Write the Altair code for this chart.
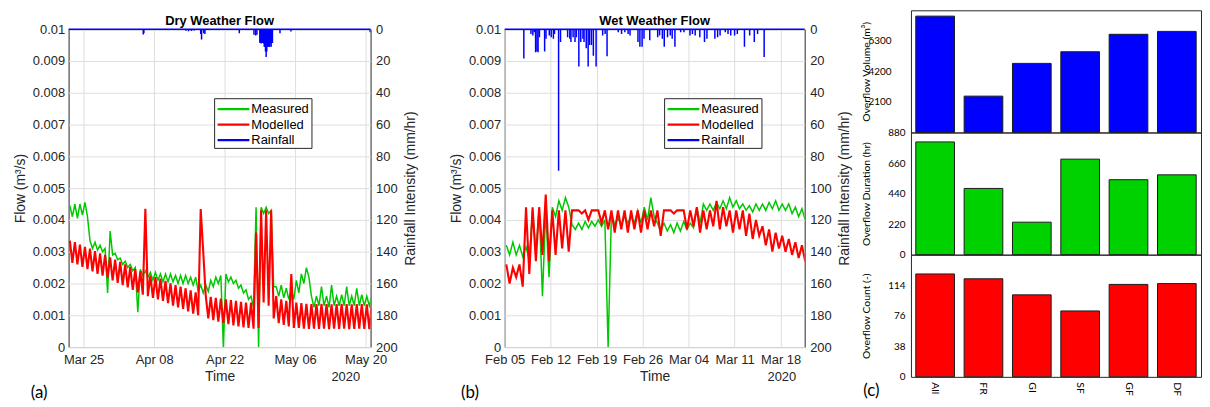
import altair as alt
import pandas as pd

# ---------------- data ----------------
SERIES = ["Measured", "Modelled", "Rainfall"]
SERIES_COLORS = ["#00c800", "#ff0000", "#0000ff"]

# (a) Dry weather flow: one high (06:00) and one low (18:00) reading per day, in L/s, from 2020-03-22
dry_start = "2020-03-22"
dry_measured_hi = [4.45, 4.5, 4.5, 4.55, 3.35, 3.3, 3.2, 3.1, 3.65, 2.95,
                   2.8, 2.7, 2.6, 2.5, 2.45, 2.4, 2.35, 2.35, 2.3, 2.3,
                   2.3, 2.25, 2.25, 2.25, 2.2, 2.2, 1.95, 1.95, 2.1, 2.2,
                   2.25, 2.3, 2.2, 2.1, 1.95, 1.8, 1.6, 4.4, 4.4, 4.4,
                   4.3, 1.9, 1.95, 1.85, 1.8, 2.1, 2.3, 2.5, 1.6, 1.6,
                   1.9, 1.6, 1.95, 1.6, 1.65, 1.9, 1.6, 1.85, 1.65, 1.6, 1.6]
dry_measured_lo = [4.1, 4.05, 4.15, 4.1, 3.1, 3.05, 3.0, 1.7, 2.9, 2.75,
                   2.6, 2.5, 2.4, 1.1, 2.25, 2.2, 2.1, 2.1, 2.05, 2.05,
                   2.05, 2.0, 2.0, 2.0, 1.95, 1.75, 1.7, 1.75, 1.9, 2.0,
                   0.0, 2.05, 2.0, 1.85, 1.7, 1.5, 1.25, 0.0, 4.2, 4.2,
                   1.9, 1.6, 1.55, 1.5, 1.5, 1.7, 2.0, 2.2, 1.25, 1.3,
                   1.3, 1.25, 1.3, 1.3, 1.3, 1.3, 1.3, 1.3, 1.3, 1.3, 1.3]
dry_modelled_hi = [3.35, 3.3, 3.22, 3.15, 3.1, 3.02, 2.95, 2.9, 2.82, 2.75,
                   2.68, 2.6, 2.52, 2.45, 2.38, 4.35, 2.25, 2.2, 2.15, 2.08,
                   2.0, 1.95, 1.9, 1.85, 1.78, 1.72, 4.34, 1.62, 1.58, 1.55,
                   1.52, 1.5, 1.48, 1.45, 1.42, 1.4, 1.4, 3.6, 4.3, 4.3,
                   4.3, 1.6, 1.5, 1.45, 2.3, 1.4, 1.38, 1.36, 1.35, 1.35,
                   1.36, 1.35, 1.34, 1.35, 1.36, 1.35, 1.34, 1.35, 1.35, 1.34, 1.35]
dry_modelled_lo = [2.65, 2.6, 2.52, 2.45, 2.38, 2.3, 2.25, 2.18, 2.1, 2.02,
                   1.95, 1.88, 1.8, 1.72, 1.65, 1.6, 1.55, 1.5, 1.45, 1.38,
                   1.3, 1.25, 1.2, 1.12, 1.05, 1.0, 3.0, 0.9, 0.85, 0.8,
                   0.75, 0.72, 0.68, 0.65, 0.62, 0.6, 0.58, 0.6, 1.4, 1.3,
                   0.9, 0.75, 0.7, 0.65, 0.6, 0.6, 0.58, 0.57, 0.58, 0.57,
                   0.58, 0.56, 0.58, 0.57, 0.58, 0.56, 0.57, 0.58, 0.57, 0.56, 0.58]
dry_rain_time = ["2020-04-05T20:00", "2020-04-05T23:00", "2020-04-14T08:00", "2020-04-14T20:00",
                 "2020-04-15T10:00", "2020-04-15T22:00", "2020-04-17T06:00", "2020-04-17T10:00",
                 "2020-04-17T20:00", "2020-04-18T02:00", "2020-04-24T22:00", "2020-04-27T20:00",
                 "2020-04-28T04:00", "2020-04-28T10:00",
                 "2020-04-29T00:00", "2020-04-29T03:00", "2020-04-29T06:00", "2020-04-29T09:00",
                 "2020-04-29T12:00", "2020-04-29T15:00", "2020-04-29T18:00", "2020-04-29T21:00",
                 "2020-04-30T00:00", "2020-04-30T03:00", "2020-04-30T06:00", "2020-04-30T09:00",
                 "2020-04-30T12:00", "2020-04-30T15:00", "2020-04-30T18:00", "2020-04-30T21:00",
                 "2020-05-01T00:00", "2020-05-01T03:00", "2020-05-01T06:00", "2020-05-01T09:00",
                 "2020-05-01T12:00", "2020-05-03T00:00", "2020-05-05T04:00", "2020-05-20T22:00"]
dry_rain_mm = [3.3, 2.5, 1.0, 1.3, 1.2, 0.8, 3.0, 6.5, 2.5, 3.0, 2.5, 3.5, 4.0, 3.5,
               8.5, 8.75, 9.0, 8.75, 8.75, 8.5, 9.0, 11.0,
               11.0, 14.0, 17.5, 14.0, 11.0, 11.0, 11.0, 11.0,
               11.0, 8.75, 11.0, 8.75, 8.75, 2.5, 1.5, 2.0]

# (b) Wet weather flow: daily high / low readings in L/s, from 2020-02-05
wet_start = "2020-02-05"
wet_measured_hi = [3.2, 3.3, 3.2, 3.15, 4.3, 4.4, 4.3, 4.4, 4.6, 4.7,
                   3.85, 3.9, 3.95, 3.95, 4.0, 4.0, 4.2, 4.05, 4.1, 4.1,
                   4.3, 4.4, 4.7, 3.9, 3.9, 3.85, 3.9, 3.95, 3.9, 4.4,
                   4.5, 4.5, 4.55, 4.6, 4.7, 4.6, 4.5, 4.45, 4.5, 4.5,
                   4.55, 4.6, 4.5, 4.5, 4.4, 4.35]
wet_measured_lo = [2.9, 2.9, 2.85, 2.75, 3.0, 1.6, 2.2, 4.1, 4.3, 4.4,
                   3.7, 3.7, 3.75, 3.8, 3.8, 0.0, 3.85, 3.85, 3.9, 3.9,
                   3.9, 4.0, 4.1, 3.65, 3.65, 3.6, 3.65, 3.7, 3.75, 3.9,
                   4.3, 4.3, 4.35, 4.35, 4.4, 4.35, 4.3, 4.25, 4.3, 4.3,
                   4.35, 4.3, 4.3, 4.2, 4.1, 4.0]
wet_modelled_hi = [2.6, 2.5, 2.6, 4.4, 4.4, 4.4, 4.8, 4.3, 4.3, 4.3,
                   4.3, 4.3, 4.3, 4.3, 4.3, 4.3, 4.3, 4.3, 4.3, 4.3,
                   4.3, 4.3, 4.3, 4.3, 4.3, 4.3, 4.3, 4.3, 4.3, 4.4,
                   4.3, 4.3, 4.6, 4.4, 4.3, 4.3, 4.3, 4.2, 4.0, 3.8,
                   3.7, 3.6, 3.5, 3.4, 3.3, 3.2]
wet_modelled_lo = [2.0, 2.2, 1.9, 2.3, 2.7, 2.9, 2.7, 2.9, 3.1, 3.0,
                   4.3, 4.2, 4.0, 4.3, 3.9, 3.7, 3.6, 3.7, 3.6, 3.7,
                   3.6, 3.7, 3.8, 3.5, 4.3, 4.2, 4.3, 3.7, 3.8, 3.6,
                   3.7, 3.8, 3.7, 3.8, 3.6, 3.7, 3.5, 3.4, 3.5, 3.2,
                   3.0, 3.1, 3.0, 2.9, 2.8, 2.7]
wet_rain_time = ["2020-02-07T22:00", "2020-02-09T00:00", "2020-02-09T07:00", "2020-02-09T12:00",
                 "2020-02-09T17:00", "2020-02-09T22:00", "2020-02-10T02:00", "2020-02-10T07:00",
                 "2020-02-11T02:00", "2020-02-11T07:00", "2020-02-11T19:00", "2020-02-12T02:00",
                 "2020-02-12T10:00", "2020-02-12T14:00", "2020-02-13T05:00", "2020-02-13T12:00",
                 "2020-02-14T14:00", "2020-02-14T22:00", "2020-02-15T02:00", "2020-02-15T10:00",
                 "2020-02-15T17:00", "2020-02-15T22:00", "2020-02-16T07:00", "2020-02-16T14:00",
                 "2020-02-16T22:00", "2020-02-17T02:00", "2020-02-17T10:00", "2020-02-17T17:00",
                 "2020-02-17T22:00", "2020-02-18T05:00", "2020-02-18T12:00", "2020-02-18T22:00",
                 "2020-02-19T22:00", "2020-02-20T07:00", "2020-02-20T14:00", "2020-02-22T07:00",
                 "2020-02-22T19:00", "2020-02-23T07:00", "2020-02-23T19:00", "2020-02-24T02:00",
                 "2020-02-25T07:00", "2020-02-25T14:00", "2020-02-25T22:00", "2020-02-26T05:00",
                 "2020-02-27T02:00", "2020-02-28T07:00", "2020-02-28T14:00", "2020-02-29T00:00",
                 "2020-02-29T07:00", "2020-02-29T19:00", "2020-03-01T05:00", "2020-03-01T12:00",
                 "2020-03-01T22:00", "2020-03-02T19:00", "2020-03-03T07:00", "2020-03-04T05:00",
                 "2020-03-04T14:00", "2020-03-05T00:00", "2020-03-05T17:00", "2020-03-06T10:00",
                 "2020-03-06T19:00", "2020-03-08T00:00", "2020-03-08T10:00", "2020-03-08T19:00",
                 "2020-03-09T14:00", "2020-03-10T00:00", "2020-03-10T10:00", "2020-03-11T00:00",
                 "2020-03-11T10:00", "2020-03-12T12:00", "2020-03-13T07:00", "2020-03-14T00:00",
                 "2020-03-14T12:00", "2020-03-15T12:00"]
wet_rain_mm = [18.5, 3.0, 4.0, 2.0, 14.5, 14.0, 14.5, 5.0,
               14.0, 6.0, 4.0, 5.0, 6.0, 3.0, 89.0, 8.0,
               5.0, 6.0, 8.0, 5.0, 8.0, 5.0, 23.5, 8.0,
               6.0, 8.0, 12.0, 23.5, 10.0, 10.0, 16.7, 23.5,
               4.0, 3.0, 17.0, 2.0, 3.0, 2.0, 3.0, 4.0,
               8.0, 11.0, 11.0, 6.0, 7.0, 5.0, 4.0, 6.0,
               11.0, 5.0, 4.0, 6.0, 11.0, 2.0, 2.0, 4.0,
               3.0, 4.0, 5.0, 8.0, 6.0, 6.0, 5.0, 4.0,
               2.0, 3.0, 4.0, 4.0, 3.0, 11.0, 4.0, 8.0,
               3.0, 17.5]

flow_ticks = [0, 0.001, 0.002, 0.003, 0.004, 0.005, 0.006, 0.007, 0.008, 0.009, 0.01]
rain_ticks = [0, 20, 40, 60, 80, 100, 120, 140, 160, 180, 200]
dry_tick_dates = [(3, 25), (4, 8), (4, 22), (5, 6), (5, 20)]
wet_tick_dates = [(2, 5), (2, 12), (2, 19), (2, 26), (3, 4), (3, 11), (3, 18)]

# (c) overflow statistics
categories = ["All", "FR", "GI", "SF", "GF", "DF"]
overflow_volume = [8000, 2500, 4750, 5550, 6750, 6950]
overflow_duration = [812, 477, 234, 688, 540, 575]
overflow_count = [128, 122, 102, 82, 115, 116]

# ---------------- helpers ----------------
MATLAB_FONT = "Liberation Sans"
ORIGIN_FONT = "Lato"


def flow_frame(start, hi, lo, name):
    base = pd.Timestamp(start)
    rows = []
    for i, (h, l) in enumerate(zip(hi, lo)):
        rows.append(((base + pd.Timedelta(days=i, hours=6)).strftime("%Y-%m-%dT%H:%M"), h / 1000.0, name))
        rows.append(((base + pd.Timedelta(days=i, hours=18)).strftime("%Y-%m-%dT%H:%M"), l / 1000.0, name))
    return pd.DataFrame(rows, columns=["t", "flow", "series"])


def one_row():
    return pd.DataFrame({"v": [0]})


def text_layer(text, x, y, size, font, align="left", color="#000000", weight="normal"):
    return alt.Chart(one_row()).mark_text(
        text=text, fontSize=size, font=font, align=align, baseline="middle", color=color,
        fontWeight=weight,
    ).encode(x=alt.value(x), y=alt.value(y))


def legend_layers(lx, ly):
    """Boxed legend drawn as marks, lx/ly = top-left of the box inside the plot."""
    parts = [
        alt.Chart(one_row()).mark_rect(fill="#ffffff", stroke="#262626", strokeWidth=1).encode(
            x=alt.value(lx), x2=alt.value(lx + 98), y=alt.value(ly), y2=alt.value(ly + 50)
        )
    ]
    for i, (name, col) in enumerate(zip(SERIES, SERIES_COLORS)):
        yy = ly + 10.5 + i * 15.6
        parts.append(
            alt.Chart(one_row()).mark_rule(color=col, strokeWidth=2.2).encode(
                x=alt.value(lx + 3), x2=alt.value(lx + 35), y=alt.value(yy)
            )
        )
        parts.append(text_layer(name, lx + 37, yy, 13, MATLAB_FONT))
    return parts


def ts_panel(flow_df, rain_df, domain, tick_dates, title, leg_x, leg_y, tag, tag_x, W, H):
    x = alt.X(
        "t:T",
        scale=alt.Scale(domain=domain),
        axis=alt.Axis(
            values=[alt.DateTime(year=2020, month=m, date=d) for m, d in tick_dates],
            format="%b %d", title="Time", grid=True, labelPadding=7,
            titleY=30, titleBaseline="middle",
        ),
    )
    color = alt.Color("series:N", scale=alt.Scale(domain=SERIES, range=SERIES_COLORS), legend=None)
    lines = alt.Chart(flow_df).mark_line(clip=True).encode(
        x=x,
        y=alt.Y(
            "flow:Q",
            scale=alt.Scale(domain=[0, 0.01], nice=False),
            axis=alt.Axis(
                values=flow_ticks, format="~g", title="Flow (m³/s)", grid=True, labelPadding=4,
                titleX=-48, titleY=H / 2, titleAngle=270, titleAlign="center", titleBaseline="middle",
            ),
        ),
        color=color,
        strokeWidth=alt.StrokeWidth(
            "series:N", scale=alt.Scale(domain=["Measured", "Modelled"], range=[1.5, 2.1]), legend=None
        ),
    )
    rain = alt.Chart(rain_df).mark_rule(clip=True, strokeWidth=1.5).encode(
        x=x,
        y=alt.Y(
            "rain:Q",
            scale=alt.Scale(domain=[0, 200], reverse=True, nice=False),
            axis=alt.Axis(
                orient="right", values=rain_ticks, title="Rainfall Intensity (mm/hr)", grid=False,
                labelPadding=5, titleX=40, titleY=H / 2, titleAngle=270, titleAlign="center",
                titleBaseline="middle",
            ),
        ),
        y2=alt.datum(0),
        color=color,
    )
    baseline = alt.Chart(one_row()).mark_rule(color="#0000ff", strokeWidth=1.5).encode(
        x=alt.value(0), x2=alt.value(W), y=alt.value(0)
    )
    title_lbl = text_layer(title, W / 2, -8, 13, MATLAB_FONT, align="center", weight="bold")
    year_lbl = text_layer("2020", 279, 350, 13, MATLAB_FONT, align="center", color="#262626")
    tag_lbl = text_layer(tag, tag_x, 366, 17, ORIGIN_FONT)
    return alt.layer(
        lines, rain, baseline, *legend_layers(leg_x, leg_y), title_lbl, year_lbl, tag_lbl
    ).resolve_scale(y="independent").properties(width=W, height=H)


def bar_panel(values, fill, top, ticks, title, label_pad, show_x, H, extra=None):
    df = pd.DataFrame({"cat": categories, "v": values})
    if show_x:
        xaxis = alt.Axis(labelAngle=90, title=None, labelFont=ORIGIN_FONT, labelFontSize=10.5,
                         labelPadding=5, labelColor="#000000", grid=False)
    else:
        xaxis = None
    bars = alt.Chart(df).mark_bar(fill=fill, stroke="#1a1a1a", strokeWidth=1).encode(
        x=alt.X("cat:N", sort=categories, scale=alt.Scale(paddingInner=0.2, paddingOuter=0.1), axis=xaxis),
        y=alt.Y(
            "v:Q",
            scale=alt.Scale(domain=[0, top], nice=False),
            axis=alt.Axis(
                values=ticks, format="d", title=title, grid=False, labelFont=ORIGIN_FONT,
                labelFontSize=10, labelColor="#000000", labelPadding=label_pad,
                titleFont=ORIGIN_FONT, titleFontSize=10.5, titleColor="#000000",
                titleX=-45, titleY=H / 2, titleAngle=270, titleAlign="center", titleBaseline="middle",
            ),
        ),
    )
    layers = [bars]
    if extra is not None:
        layers.append(extra)
    return alt.layer(*layers).properties(width=292, height=H)


# ---------------- panels ----------------
dry_flow = pd.concat([flow_frame(dry_start, dry_measured_hi, dry_measured_lo, "Measured"),
                      flow_frame(dry_start, dry_modelled_hi, dry_modelled_lo, "Modelled")])
wet_flow = pd.concat([flow_frame(wet_start, wet_measured_hi, wet_measured_lo, "Measured"),
                      flow_frame(wet_start, wet_modelled_hi, wet_modelled_lo, "Modelled")])
dry_rain = pd.DataFrame({"t": dry_rain_time, "rain": dry_rain_mm, "series": "Rainfall"})
wet_rain = pd.DataFrame({"t": wet_rain_time, "rain": wet_rain_mm, "series": "Rainfall"})

panel_a = ts_panel(
    dry_flow, dry_rain,
    [alt.DateTime(year=2020, month=3, date=22), alt.DateTime(year=2020, month=5, date=21)],
    dry_tick_dates, "Dry Weather Flow", 147, 70, "(a)", -38, 304, 320,
)
panel_b = ts_panel(
    wet_flow, wet_rain,
    [alt.DateTime(year=2020, month=2, date=5), alt.DateTime(year=2020, month=3, date=21, hours=16)],
    wet_tick_dates, "Wet Weather Flow", 161, 70, "(b)", -44, 302, 320,
)

spacer = alt.Chart(one_row()).mark_point(opacity=0).encode(
    x=alt.X("v:Q", axis=None), y=alt.Y("v:Q", axis=None)
).properties(width=741, height=19, view=alt.ViewBackground(stroke="transparent"))

ab_inner = alt.hconcat(panel_a, panel_b, spacing=135, bounds="flush").resolve_scale(
    color="independent", strokeWidth="independent")
ab = alt.vconcat(spacer, ab_inner, spacing=0, bounds="flush").resolve_scale(
    color="independent", strokeWidth="independent")

c1 = bar_panel(overflow_volume, "#0000ff", 8400, [2100, 4200, 6300], "Overflow Volume (m³)", 20, False, 123)
c2 = bar_panel(overflow_duration, "#00d200", 880, [0, 220, 440, 660, 880], "Overflow Duration (hr)", 6, False, 123)
c3 = bar_panel(overflow_count, "#ff0000", 152, [0, 38, 76, 114], "Overflow Count (-)", 6, True, 123,
               extra=text_layer("(c)", -48, 137, 17, ORIGIN_FONT))
c = alt.vconcat(c1, c2, c3, spacing=0, bounds="flush")

chart = alt.hconcat(ab, c, spacing=8).resolve_scale(
    color="independent", strokeWidth="independent").properties(
    padding={"left": 5, "top": 0, "right": 0, "bottom": 0}
).configure(font=MATLAB_FONT).configure_view(
    stroke="#262626", strokeWidth=1
).configure_axis(
    labelFontSize=13, titleFontSize=14, labelColor="#262626", titleColor="#262626",
    titleFontWeight="normal", domain=False, ticks=False, gridColor="#dedede", gridWidth=1,
    labelFont=MATLAB_FONT, titleFont=MATLAB_FONT, labelFlush=False, labelOverlap=False,
)

chart.save("out.html", embed_options={"renderer": "svg", "actions": False})
